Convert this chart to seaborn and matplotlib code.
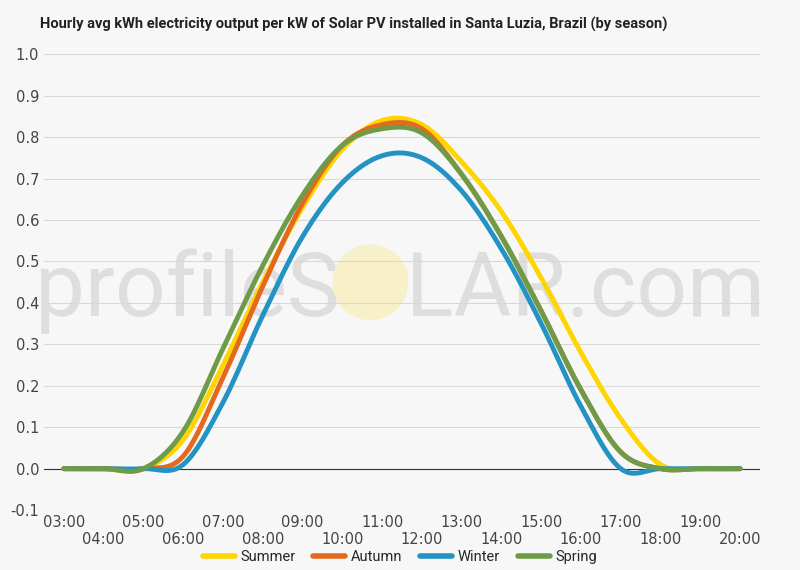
import numpy as np
import pandas as pd
import seaborn as sns
import matplotlib.pyplot as plt
from matplotlib.patches import Ellipse

hours = list(range(3, 21))
summer = [0, 0, 0, 0.07, 0.25, 0.45, 0.63, 0.77, 0.84, 0.83, 0.74, 0.62, 0.46, 0.28, 0.12, 0.01, 0, 0]
autumn = [0, 0, 0, 0.03, 0.22, 0.44, 0.64, 0.78, 0.83, 0.82, 0.71, 0.56, 0.38, 0.19, 0.04, 0, 0, 0]
winter = [0, 0, 0, 0.01, 0.16, 0.37, 0.56, 0.69, 0.755, 0.75, 0.67, 0.53, 0.35, 0.15, 0.0, 0, 0, 0]
spring = [0, 0, 0, 0.09, 0.29, 0.49, 0.66, 0.78, 0.82, 0.81, 0.71, 0.56, 0.38, 0.19, 0.04, 0, 0, 0]
series = {"Summer": summer, "Autumn": autumn, "Winter": winter, "Spring": spring}
colors = {"Summer": "#FFD500", "Autumn": "#E2691E", "Winter": "#2393C4", "Spring": "#6E9B47"}

def smooth(x, y, n=12):
    x = np.asarray(x, float); y = np.asarray(y, float)
    xs, ys = [], []
    for i in range(len(x) - 1):
        p0 = y[max(i - 1, 0)]; p1 = y[i]; p2 = y[i + 1]; p3 = y[min(i + 2, len(y) - 1)]
        t = np.linspace(0, 1, n, endpoint=False)
        ys.append(0.5 * (2 * p1 + (-p0 + p2) * t + (2 * p0 - 5 * p1 + 4 * p2 - p3) * t**2 + (-p0 + 3 * p1 - 3 * p2 + p3) * t**3))
        xs.append(x[i] + t)
    return np.concatenate(xs + [[x[-1]]]), np.concatenate(ys + [[y[-1]]])

rows = []
for name, vals in series.items():
    sx, sy = smooth(hours, vals)
    rows.append(pd.DataFrame({"hour": sx, "value": sy, "season": name}))
df = pd.concat(rows)

sns.set_style("white")
fig = plt.figure(figsize=(8, 5.7), dpi=100, facecolor="#f7f7f7")
ax = fig.add_axes([0.055, 0.105, 0.895, 0.80])
ax.set_facecolor("none")
plt.rcParams['font.family'] = ['Roboto', 'DejaVu Sans']

# watermark
fig.text(0.5, 0.49, "profileS   LAR.com", ha="center", va="center", fontsize=64,
         color="#dedede", family="Roboto", zorder=-2)
fig.patches.append(Ellipse((0.463, 0.505), 0.095, 0.133, transform=fig.transFigure,
                           facecolor="#f8f0c8", edgecolor="none", zorder=-1))

for y in np.arange(-0.1, 1.01, 0.1):
    ax.axhline(y, color="#d8d8d8", lw=0.8, zorder=1)
ax.axhline(0, color="#333333", lw=0.8, zorder=1)

sns.lineplot(data=df, x="hour", y="value", hue="season", palette=colors, lw=3.5, ax=ax,
             legend=False, zorder=3, sort=False, estimator=None)

ax.set_xlim(2.5, 20.5)
ax.set_ylim(-0.1, 1.0)
ax.set_yticks(np.round(np.arange(-0.1, 1.01, 0.1), 1))
ax.set_yticklabels([f"{v:.1f}" for v in np.arange(-0.1, 1.01, 0.1)], fontsize=10.5, color="#444444")
ax.set_xticks(hours)
ax.set_xticklabels([f"{h:02d}:00" if h % 2 == 1 else f"\n{h:02d}:00" for h in hours],
                   fontsize=10.5, color="#444444")
ax.tick_params(length=0)
ax.set_xlabel(""); ax.set_ylabel("")
for s in ax.spines.values():
    s.set_visible(False)

fig.text(0.05, 0.95, "Hourly avg kWh electricity output per kW of Solar PV installed in Santa Luzia, Brazil (by season)",
         fontsize=10.5, fontweight="bold", color="#222222")

from matplotlib.lines import Line2D
handles = [Line2D([], [], color=colors[k], lw=4) for k in series]
fig.legend(handles, list(series), loc="center", bbox_to_anchor=(0.5, 0.022), ncol=4,
           frameon=False, fontsize=10.5, handlelength=2.2, columnspacing=1.2, handletextpad=0.4)

fig.savefig("out.png", dpi=100, facecolor="#f7f7f7")
